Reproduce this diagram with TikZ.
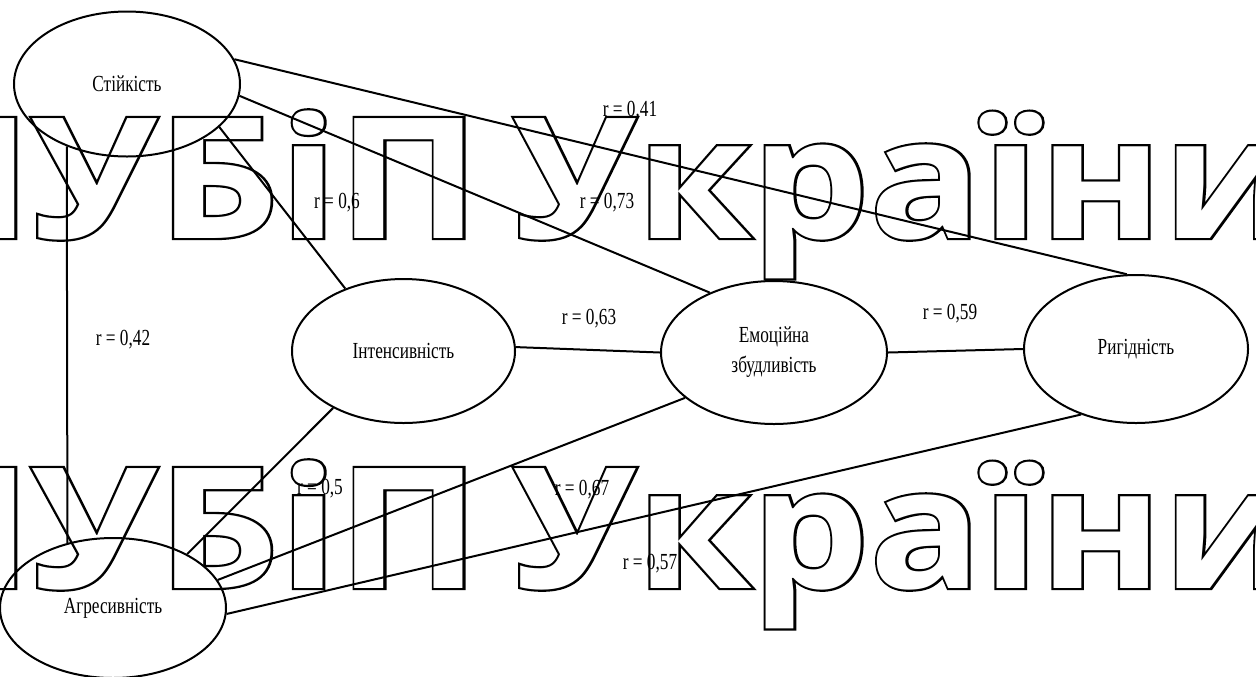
\documentclass[tikz,border=0pt]{standalone}
\usepackage{fontspec}
\setmainfont{Liberation Serif}
\newfontfamily\labfont[FakeStretch=0.75]{Liberation Serif}
\newfontfamily\wmO{Open Sans}[UprightFont={* Bold},FakeBold=2.6]
\newfontfamily\wmW{Open Sans}[UprightFont={* Bold}]
\usetikzlibrary{shapes.geometric}
\begin{document}
\begin{tikzpicture}[x=0.5pt,y=-0.5pt,
  ell/.style={draw,ellipse,line width=1pt,inner sep=0pt,align=center,
    font=\labfont\fontsize{11.5}{15}\selectfont},
  conn/.style={line width=1pt},
  lab/.style={font=\labfont\fontsize{11.5}{14}\selectfont,inner sep=0pt},
  wmout/.style={font=\wmO\fontsize{84}{84}\selectfont,inner sep=0pt,text=black},
  wmin/.style={font=\wmW\fontsize{84}{84}\selectfont,inner sep=0pt,text=white}
]
\useasboundingbox (0,0) rectangle (1256,676);

% watermark (outlined letters)
\foreach \yy/\nm in {238/a,588/b}{
  \node[wmout,anchor=base east] (w1o\nm) at (481,\yy) {\scalebox{1.14}[1]{НУБіП}};
  \node[wmin,anchor=base east] (w1i\nm) at (481,\yy) {\scalebox{1.14}[1]{НУБіП}};
  \node[wmout,anchor=base west] (w2o\nm) at (514,\yy) {\scalebox{1.11}[1]{України}};
  \node[wmin,anchor=base west] (w2i\nm) at (514,\yy) {\scalebox{1.11}[1]{України}};
}

% nodes
\node[ell,minimum width=113pt,minimum height=72.5pt] (st) at (127,84) {Стійкість};
\node[ell,minimum width=111.5pt,minimum height=72pt] (in) at (403.5,351) {Інтенсивність};
\node[ell,minimum width=113pt,minimum height=71.5pt] (em) at (774,352.5) {Емоційна\\збудливість};
\node[ell,minimum width=112pt,minimum height=74pt] (ri) at (1136,349) {Ригідність};
\node[ell,minimum width=113pt,minimum height=70pt] (ag) at (113,608) {Агресивність};

% connectors
\draw[conn] (st.13) -- (ri.97);
\draw[conn] (st.-6.6) -- (em.137);
\draw[conn] (st.-25.3) -- (in.133.8);
\draw[conn] (st.226.3) -- (ag.125.1);
\draw[conn] (in.2.6) -- (em.180);
\draw[conn] (em.0) -- (ri.180);
\draw[conn] (in.219) -- (ag.36.4);
\draw[conn] (em.207.9) -- (ag.15.9);
\draw[conn] (ri.230.3) -- (ag.-3.5);

% labels
\node[lab] (l41) at (630,111) {r = 0,41};
\node[lab] (l73) at (607,203) {r = 0,73};
\node[lab] (l6) at (337,203) {r = 0,6};
\node[lab] (l42) at (123,340) {r = 0,42};
\node[lab] (l63) at (589,319) {r = 0,63};
\node[lab] (l59) at (950,314) {r = 0,59};
\node[lab] (l5) at (320,489) {r = 0,5};
\node[lab] (l67) at (582,490) {r = 0,67};
\node[lab] (l57) at (650,564) {r = 0,57};
\end{tikzpicture}
\end{document}
